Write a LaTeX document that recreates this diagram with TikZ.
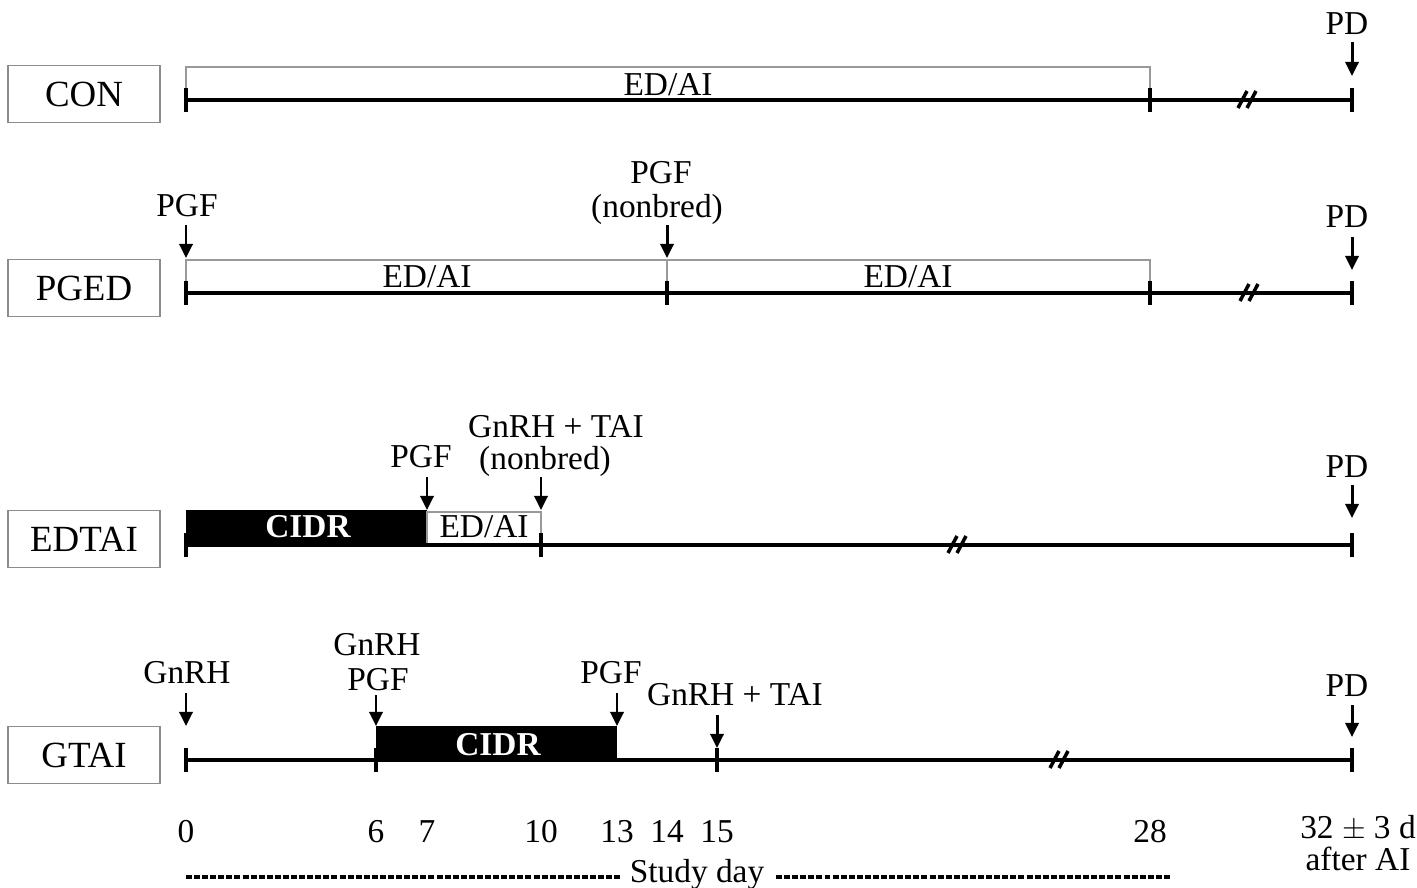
\documentclass[tikz,border=0pt]{standalone}
\usepackage{fontspec}
\setmainfont{Liberation Serif}
\usetikzlibrary{arrows.meta}
\begin{document}
\begin{tikzpicture}[x=0.02cm,y=-0.02cm,
  txt/.style={font=\fontsize{19}{22}\selectfont, inner sep=0pt, anchor=base},
  grp/.style={draw=black!45, line width=0.9pt, font=\fontsize{21}{24}\selectfont, minimum width=3.04cm, minimum height=1.14cm, inner sep=0pt},
  axisline/.style={line width=2pt},
  tk/.style={line width=1.8pt},
  win/.style={draw=black!40, line width=0.8pt},
  cidrbox/.style={fill=black},
  cidrtxt/.style={txt, text=white, font=\fontsize{19}{22}\selectfont\bfseries},
  pt/.style={line width=1.7pt, -{Triangle[length=8pt,width=7.5pt]}},
  brk/.style={line width=2pt},
  studydash/.style={line width=2pt, dash pattern=on 3.4pt off 1.2pt},
]
\useasboundingbox (0,0) rectangle (1417,888);

% ---------- CON ----------
\node[grp] (gcon) at (84,94) {CON};
\draw[win] (186,100) |- (1150,67) -- (1150,100);
\node[txt] (con-ed) at (668,96) {ED/AI};
\coordinate (con-s) at (186,100);
\coordinate (con-e) at (1352,100);
\draw[axisline] (con-s) -- (con-e);
\foreach \x in {186,1150,1352} \draw[tk] (\x,88) -- (\x,112);
\draw[brk] (1238,108) -- (1247,91) (1247,108) -- (1256,91);
\node[txt] (con-pd) at (1347,35) {PD};
\coordinate (con-pd-a) at (1352,42);
\coordinate (con-pd-b) at (1352,76);
\draw[pt] (con-pd-a) -- (con-pd-b);

% ---------- PGED ----------
\node[grp] (gpged) at (84,288) {PGED};
\draw[win] (186,293) |- (1150,260) -- (1150,293);
\draw[win] (667,260) -- (667,293);
\node[txt] (pg-ed1) at (427,288) {ED/AI};
\node[txt] (pg-ed2) at (908,288) {ED/AI};
\draw[axisline] (186,293) -- (1352,293);
\foreach \x in {186,667,1150,1352} \draw[tk] (\x,281) -- (\x,305);
\draw[brk] (1240,301) -- (1249,284) (1249,301) -- (1258,284);
\node[txt] (pg-pgf1) at (187,217) {PGF};
\coordinate (pg-a1) at (186,225);
\coordinate (pg-b1) at (186,258);
\draw[pt] (pg-a1) -- (pg-b1);
\node[txt] (pg-pgf2) at (661,184) {PGF};
\node[txt] (pg-nb) at (657,218) {(nonbred)};
\coordinate (pg-a2) at (667,225);
\coordinate (pg-b2) at (667,258);
\draw[pt] (pg-a2) -- (pg-b2);
\node[txt] (pg-pd) at (1347,228) {PD};
\coordinate (pg-a3) at (1352,237);
\coordinate (pg-b3) at (1352,270);
\draw[pt] (pg-a3) -- (pg-b3);

% ---------- EDTAI ----------
\node[grp] (gedtai) at (84,539) {EDTAI};
\fill[cidrbox] (186,510) rectangle (427,545);
\node[cidrtxt] (ed-cidr) at (308,538) {CIDR};
\draw[win] (427,512) rectangle (541,545);
\node[txt] (ed-ed) at (484,538) {ED/AI};
\draw[axisline] (186,545) -- (1352,545);
\foreach \x in {186,541,1352} \draw[tk] (\x,533) -- (\x,557);
\draw[brk] (948,553) -- (957,536) (957,553) -- (966,536);
\node[txt] (ed-pgf) at (421,468) {PGF};
\coordinate (ed-a1) at (427,477);
\coordinate (ed-b1) at (427,510);
\draw[pt] (ed-a1) -- (ed-b1);
\node[txt] (ed-gn) at (556,438) {GnRH + TAI};
\node[txt] (ed-nb) at (545,470) {(nonbred)};
\coordinate (ed-a2) at (541,477);
\coordinate (ed-b2) at (541,510);
\draw[pt] (ed-a2) -- (ed-b2);
\node[txt] (ed-pd) at (1347,478) {PD};
\coordinate (ed-a3) at (1352,485);
\coordinate (ed-b3) at (1352,518);
\draw[pt] (ed-a3) -- (ed-b3);

% ---------- GTAI ----------
\node[grp] (ggtai) at (84,755) {GTAI};
\fill[cidrbox] (376,726) rectangle (617,760);
\node[cidrtxt] (gt-cidr) at (498,755) {CIDR};
\draw[axisline] (186,760) -- (1352,760);
\foreach \x in {186,376,717,1352} \draw[tk] (\x,748) -- (\x,772);
\draw[brk] (1050,768) -- (1059,751) (1059,768) -- (1068,751);
\node[txt] (gt-gn1) at (187,683) {GnRH};
\coordinate (gt-a1) at (186,693);
\coordinate (gt-b1) at (186,726);
\draw[pt] (gt-a1) -- (gt-b1);
\node[txt] (gt-gn2) at (377,655) {GnRH};
\node[txt] (gt-pgf2) at (378,690) {PGF};
\coordinate (gt-a2) at (376,695);
\coordinate (gt-b2) at (376,726);
\draw[pt] (gt-a2) -- (gt-b2);
\node[txt] (gt-pgf3) at (611,683) {PGF};
\coordinate (gt-a3) at (617,693);
\coordinate (gt-b3) at (617,726);
\draw[pt] (gt-a3) -- (gt-b3);
\node[txt] (gt-gn4) at (735,705) {GnRH + TAI};
\coordinate (gt-a4) at (717,715);
\coordinate (gt-b4) at (717,748);
\draw[pt] (gt-a4) -- (gt-b4);
\node[txt] (gt-pd) at (1347,696) {PD};
\coordinate (gt-a5) at (1352,705);
\coordinate (gt-b5) at (1352,737);
\draw[pt] (gt-a5) -- (gt-b5);

% ---------- axis ----------
\foreach \x/\d in {186/0,376/6,427/7,541/10,617/13,667/14,717/15,1150/28}
  \node[txt] at (\x,842) {\d};
\node[txt] (d32) at (1358,838) {32 $\pm$ 3 d};
\node[txt] (aftai) at (1358,870) {after AI};
\node[txt] (sday) at (697,882) {Study day};
\coordinate (sd-l1) at (186,877);
\coordinate (sd-l2) at (622,877);
\coordinate (sd-r1) at (776,877);
\coordinate (sd-r2) at (1170,877);
\draw[studydash] (sd-l1) -- (sd-l2);
\draw[studydash] (sd-r1) -- (sd-r2);
\end{tikzpicture}
\end{document}
